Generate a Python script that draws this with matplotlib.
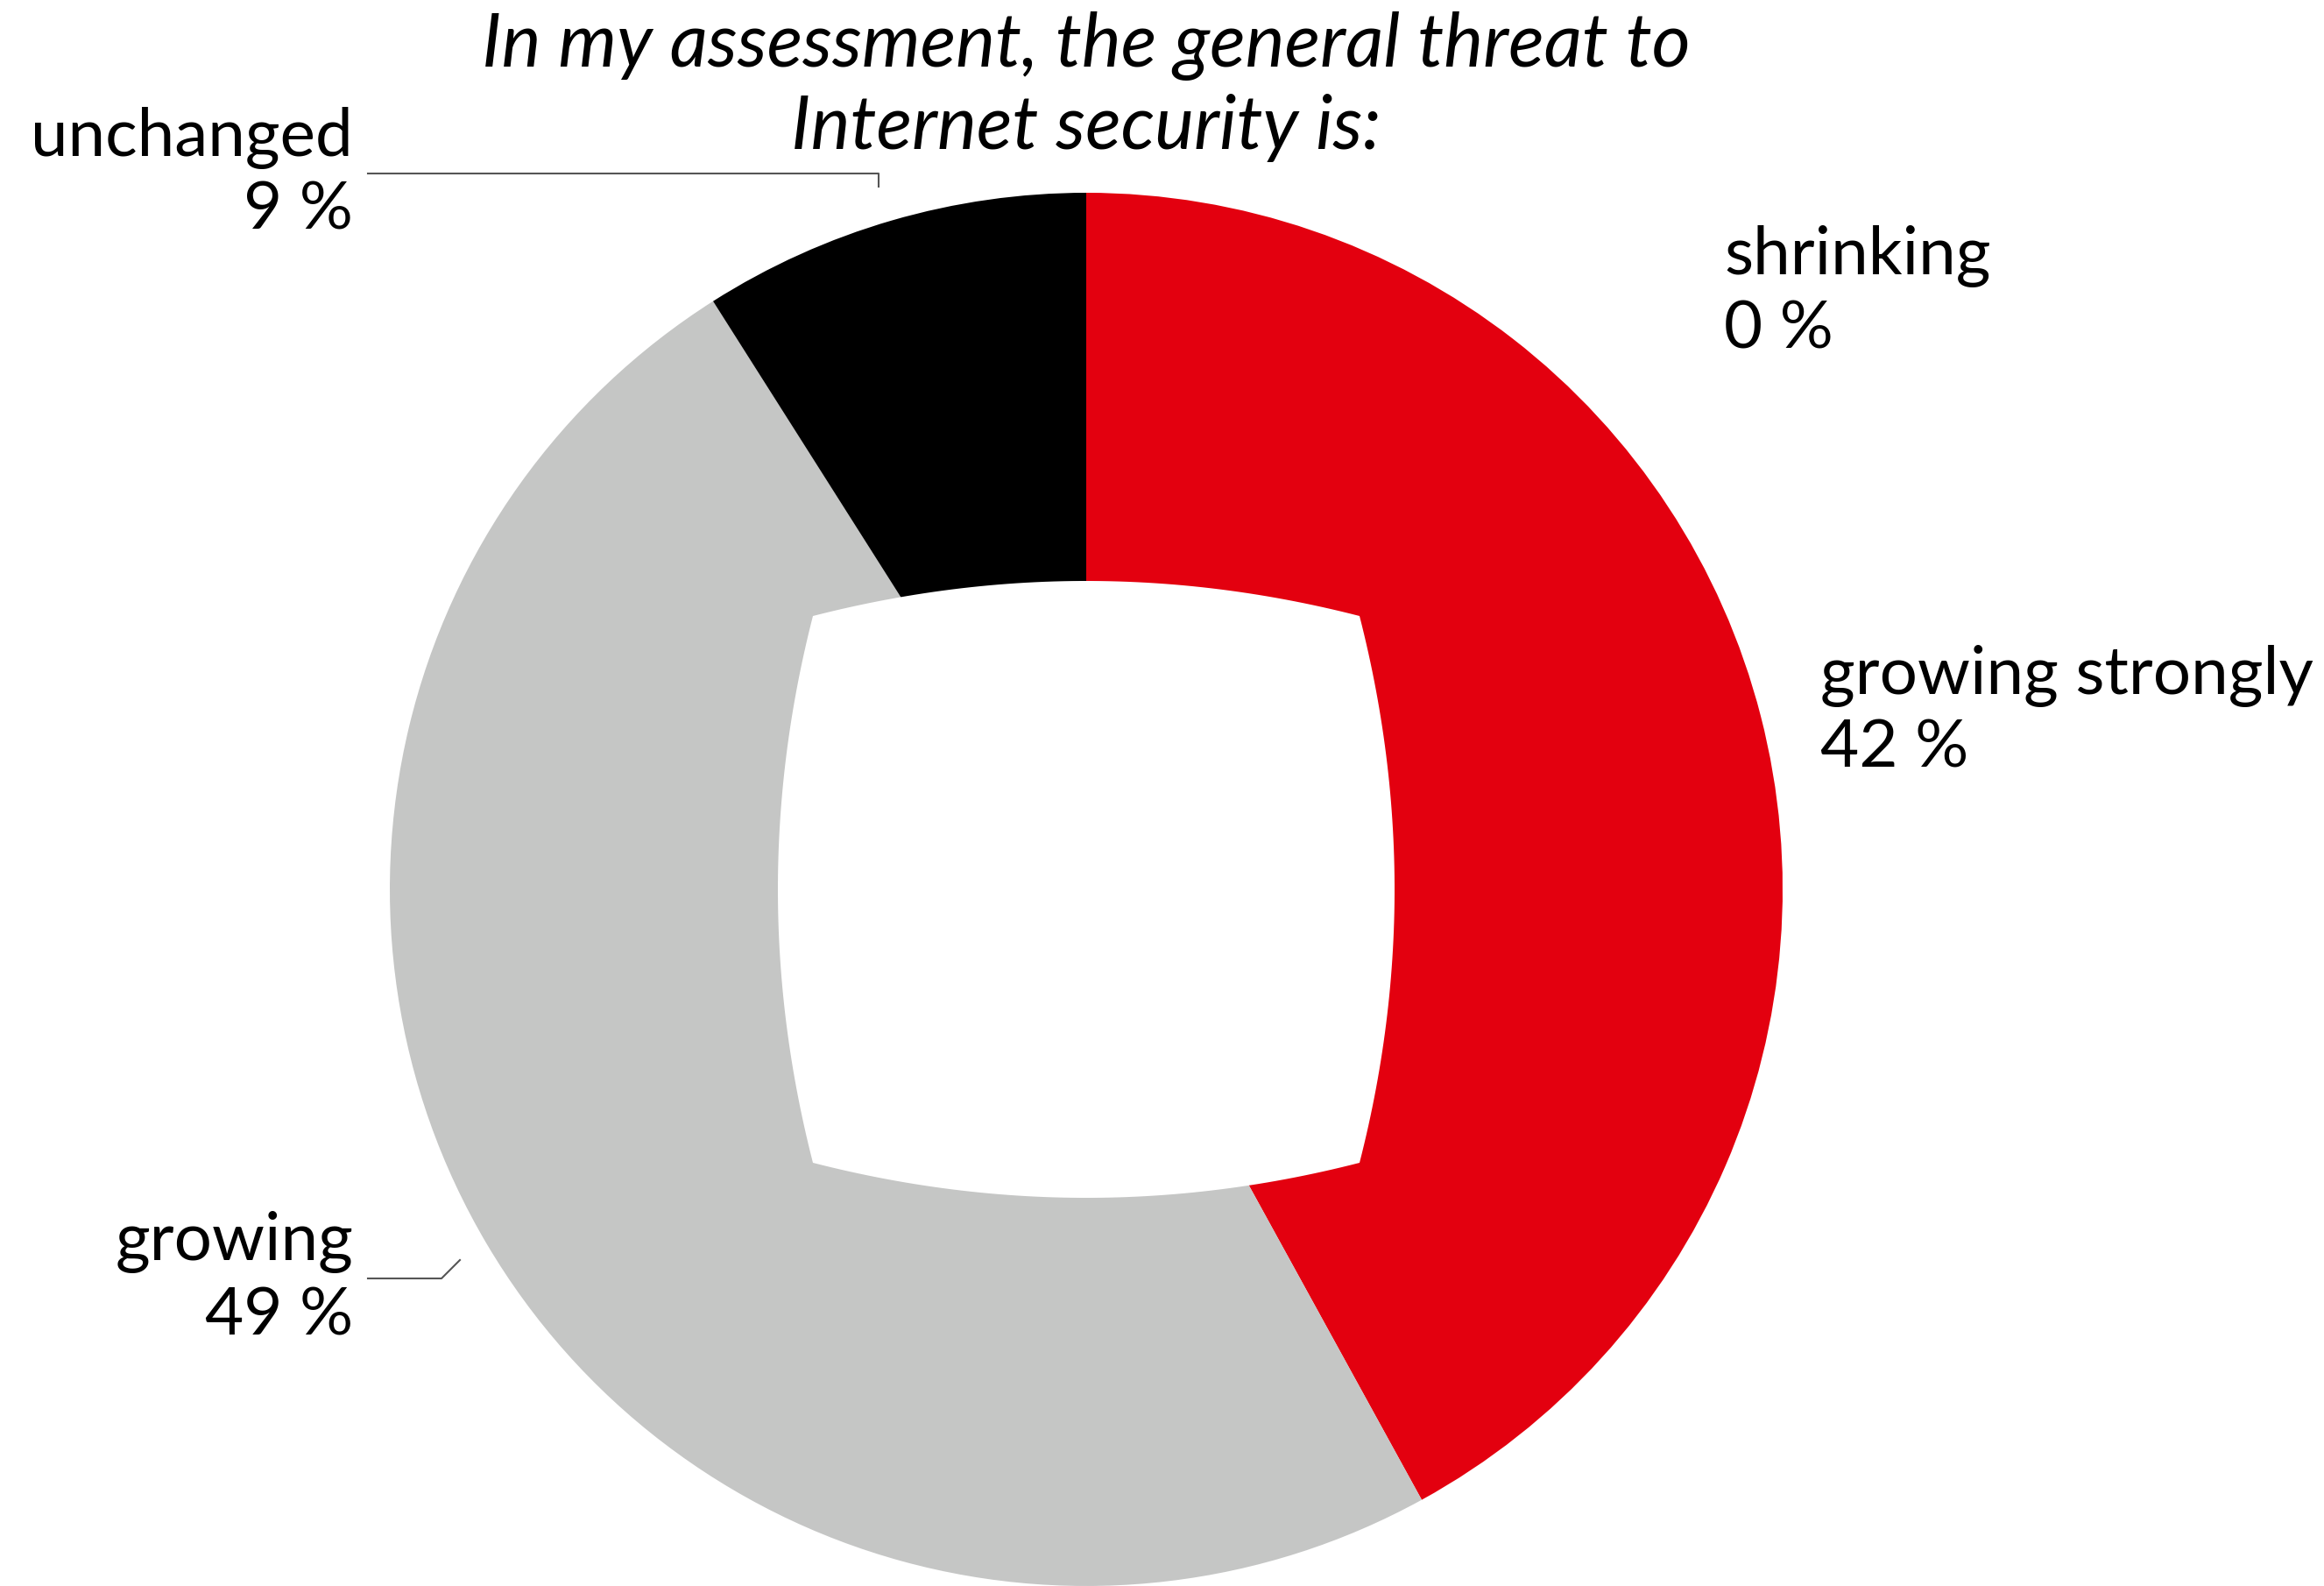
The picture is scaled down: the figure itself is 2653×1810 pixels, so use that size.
import numpy as np
import matplotlib
matplotlib.use('Agg')
import matplotlib.pyplot as plt
from matplotlib.patches import Polygon

# data
categories = ['growing strongly', 'shrinking', 'growing', 'unchanged']
shares = [42, 0, 49, 9]
colors = ['#e3000f', '#ffffff', '#c5c6c5', '#000000']
title_lines = ['In my assessment, the general threat to', 'Internet security is:']

plt.rcParams['font.family'] = ['Lato', 'DejaVu Sans']

W, H = 2653, 1810
fig = plt.figure(figsize=(W / 100, H / 100), dpi=100)
ax = fig.add_axes([0, 0, 1, 1])

# pie in pixel units, y measured from bottom
cx, cy, r = 1240, H - 1015, 795
ax.pie(shares, colors=colors, startangle=90, counterclock=False,
       center=(cx, cy), radius=r, frame=True,
       wedgeprops=dict(linewidth=0))
ax.set_xlim(0, W)
ax.set_ylim(0, H)
ax.axis('off')

# squarish hole with bulging sides
a, b = 312, 352
t = np.linspace(-1, 1, 60)
bulge = a + (b - a) * (1 - t ** 2)
pts = []
pts += list(zip(t * a, bulge))             # top, left -> right
pts += list(zip(bulge, -t * a))            # right, top -> bottom
pts += list(zip(-t * a, -bulge))           # bottom, right -> left
pts += list(zip(-bulge, t * a))            # left, bottom -> top
pts = np.array(pts) + [cx, cy]
ax.add_patch(Polygon(pts, closed=True, facecolor='white', edgecolor='none', zorder=5))

fs = 55
# labels: x, name baseline, percent baseline (pixels from top), alignment
label_pos = {
    'growing strongly': (2078, 792, 876, 'left'),
    'shrinking': (1968, 313, 398, 'left'),
    'growing': (403, 1438, 1523, 'right'),
    'unchanged': (403, 178, 262, 'right'),
}
for name, val in zip(categories, shares):
    x, y1, y2, ha = label_pos[name]
    ax.text(x, H - y1, name, ha=ha, va='baseline', fontsize=fs, color='black')
    ax.text(x, H - y2, '%d %%' % val, ha=ha, va='baseline', fontsize=fs, color='black')

# leader lines
lc = '#555555'
ax.plot([420, 1003, 1003], [H - 198, H - 198, H - 213], color=lc, lw=1.5)
ax.plot([420, 504, 525], [H - 1459, H - 1459, H - 1438], color=lc, lw=1.5)

# title
ax.text(1240, H - 76, title_lines[0], ha='center', va='baseline', fontsize=61, style='italic')
ax.text(1240, H - 170, title_lines[1], ha='center', va='baseline', fontsize=61, style='italic')

fig.savefig('out.png', dpi=100, facecolor='white')
